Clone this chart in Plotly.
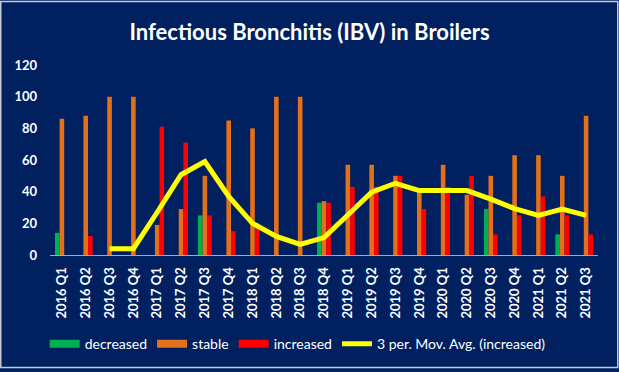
import plotly.graph_objects as go

quarters = ["2016 Q1", "2016 Q2", "2016 Q3", "2016 Q4",
            "2017 Q1", "2017 Q2", "2017 Q3", "2017 Q4",
            "2018 Q1", "2018 Q2", "2018 Q3", "2018 Q4",
            "2019 Q1", "2019 Q2", "2019 Q3", "2019 Q4",
            "2020 Q1", "2020 Q2", "2020 Q3", "2020 Q4",
            "2021 Q1", "2021 Q2", "2021 Q3"]
decreased = [14, 0, 0, 0, 0, 0, 25, 0, 0, 0, 0, 33, 0, 0, 0, 0, 0, 0, 29, 0, 0, 13, 0]
stable = [86, 88, 100, 100, 19, 29, 50, 85, 80, 100, 100, 34, 57, 57, 50, 41, 57, 38, 50, 63, 63, 50, 88]
increased = [0, 12, 0, 0, 81, 71, 25, 15, 20, 0, 0, 33, 43, 43, 50, 29, 43, 50, 13, 25, 37, 25, 13]
mov_avg = [None, None, 4, 4, 27, 50.7, 59, 37, 20, 11.7, 6.7, 11, 25.3, 39.7, 45.3, 40.7,
           40.7, 40.7, 35.3, 29.3, 25, 29, 25]
y_ticks = [0, 20, 40, 60, 80, 100, 120]

NAVY = "#002060"
FONT = "Lato"
C_DEC, C_STA, C_INC, C_AVG = "#00B050", "#E3701A", "#FF0000", "#FFFF00"

fig = go.Figure()
for name, vals, col in [("decreased", decreased, C_DEC), ("stable", stable, C_STA),
                        ("increased", increased, C_INC)]:
    fig.add_trace(go.Bar(x=quarters, y=vals, name=name, marker_color=col,
                         marker_line_width=0, showlegend=False, legendgroup=name))
fig.add_trace(go.Scatter(x=quarters, y=mov_avg, name="3 per. Mov. Avg. (increased)",
                         mode="lines", line=dict(color=C_AVG, width=5), showlegend=False))
# legend entries (wide rectangular swatches like the original)
for name, col, w in [("decreased", C_DEC, 8), ("stable", C_STA, 8), ("increased", C_INC, 8),
                     ("3 per. Mov. Avg. (increased)", C_AVG, 5)]:
    fig.add_trace(go.Scatter(x=[None], y=[None], name=name, mode="lines",
                             line=dict(color=col, width=w), showlegend=True))

W, H = 619, 372
L, R, T, B = 50, 21, 65, 115
pw, ph = W - L - R, H - T - B

fig.update_layout(
    width=W, height=H,
    margin=dict(l=L, r=R, t=T, b=B),
    paper_bgcolor=NAVY, plot_bgcolor=NAVY,
    barmode="group", bargap=0.42, bargroupgap=0.0,
    title=dict(text="<b>Infectious Bronchitis (IBV) in Broilers</b>",
               x=0.5, xanchor="center", y=1 - 32 / H, yanchor="middle",
               font=dict(family=FONT, size=22, color="white")),
    font=dict(family=FONT, color="white"),
    showlegend=True,
    legend=dict(orientation="h", x=0.452, xanchor="center", y=-(347 - (T + ph)) / ph,
                yanchor="middle", font=dict(size=14, color="white"),
                bgcolor="rgba(0,0,0,0)", itemwidth=30, traceorder="normal"),
    xaxis=dict(tickangle=-90, tickfont=dict(size=13, color="white", family=FONT),
               showgrid=False, showline=True, linecolor="#A6A6C0", linewidth=1,
               ticks="", zeroline=False, ticklabelstandoff=6,
               tickvals=quarters, ticktext=["<b>%s</b>" % q for q in quarters]),
    yaxis=dict(range=[0, 120], tickfont=dict(size=13, color="white", family=FONT),
               showgrid=False, showline=False, zeroline=False, ticks="",
               ticklabelstandoff=12,
               tickvals=y_ticks, ticktext=["<b>%d</b>" % v for v in y_ticks]),
    shapes=[dict(type="rect", xref="paper", yref="paper",
                 x0=(0.75 - L) / pw, x1=(W - 1.25 - L) / pw,
                 y0=-(H - 1.25 - T - ph) / ph, y1=(T + ph - 0.75) / ph,
                 line=dict(color="#C8C8D0", width=1.5), layer="below")],
)

fig.write_html("out.html", config={"displayModeBar": False},
               post_script="document.body.style.margin='0';document.body.style.background='#002060';")
